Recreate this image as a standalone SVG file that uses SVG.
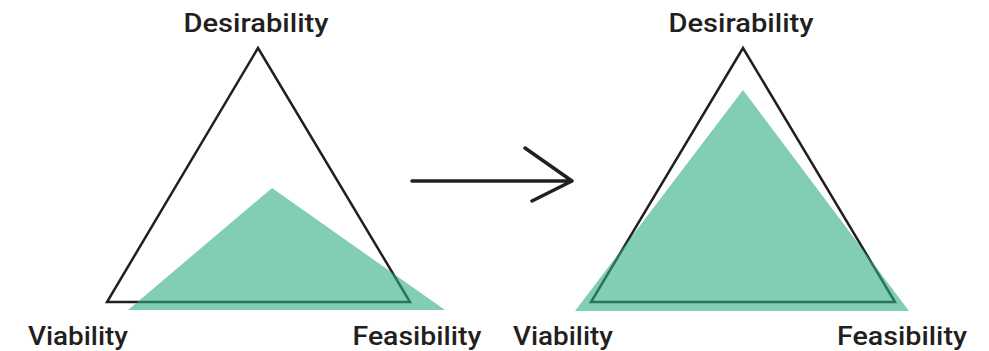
<svg xmlns="http://www.w3.org/2000/svg" width="989" height="351" viewBox="0 0 989 351">
<style>
.lbl{font-family:Roboto,"Liberation Sans",sans-serif;font-weight:500;font-size:26px;fill:#231f20;text-anchor:middle}
.outline{fill:none;stroke:#231f20;stroke-width:2.5;stroke-linejoin:miter}
.area{fill:#2fae80;fill-opacity:0.6}
.conn{fill:none;stroke:#231f20;stroke-width:3.5;stroke-linecap:round;stroke-linejoin:round}
</style>
<rect width="989" height="351" fill="#ffffff"/>
<g id="before">
<polygon class="outline" points="258,48 107,302 410,302"/>
<polygon class="area" points="272,188 128,310 445,310"/>
<text class="lbl" x="256" y="32" textLength="145" lengthAdjust="spacingAndGlyphs">Desirability</text>
<text class="lbl" x="78" y="345" textLength="100" lengthAdjust="spacingAndGlyphs">Viability</text>
<text class="lbl" x="417" y="345" textLength="129" lengthAdjust="spacingAndGlyphs">Feasibility</text>
</g>
<g id="after">
<polygon class="outline" points="743,48 591,302 895,302"/>
<polygon class="area" points="743,90 575,311 909,311"/>
<text class="lbl" x="741" y="32" textLength="145" lengthAdjust="spacingAndGlyphs">Desirability</text>
<text class="lbl" x="563" y="345" textLength="100" lengthAdjust="spacingAndGlyphs">Viability</text>
<text class="lbl" x="902" y="345" textLength="130" lengthAdjust="spacingAndGlyphs">Feasibility</text>
</g>
<g id="connectors">
<path class="conn" d="M412,181 H572 M525,148 L572,181 L532,201"/>
</g>
</svg>
